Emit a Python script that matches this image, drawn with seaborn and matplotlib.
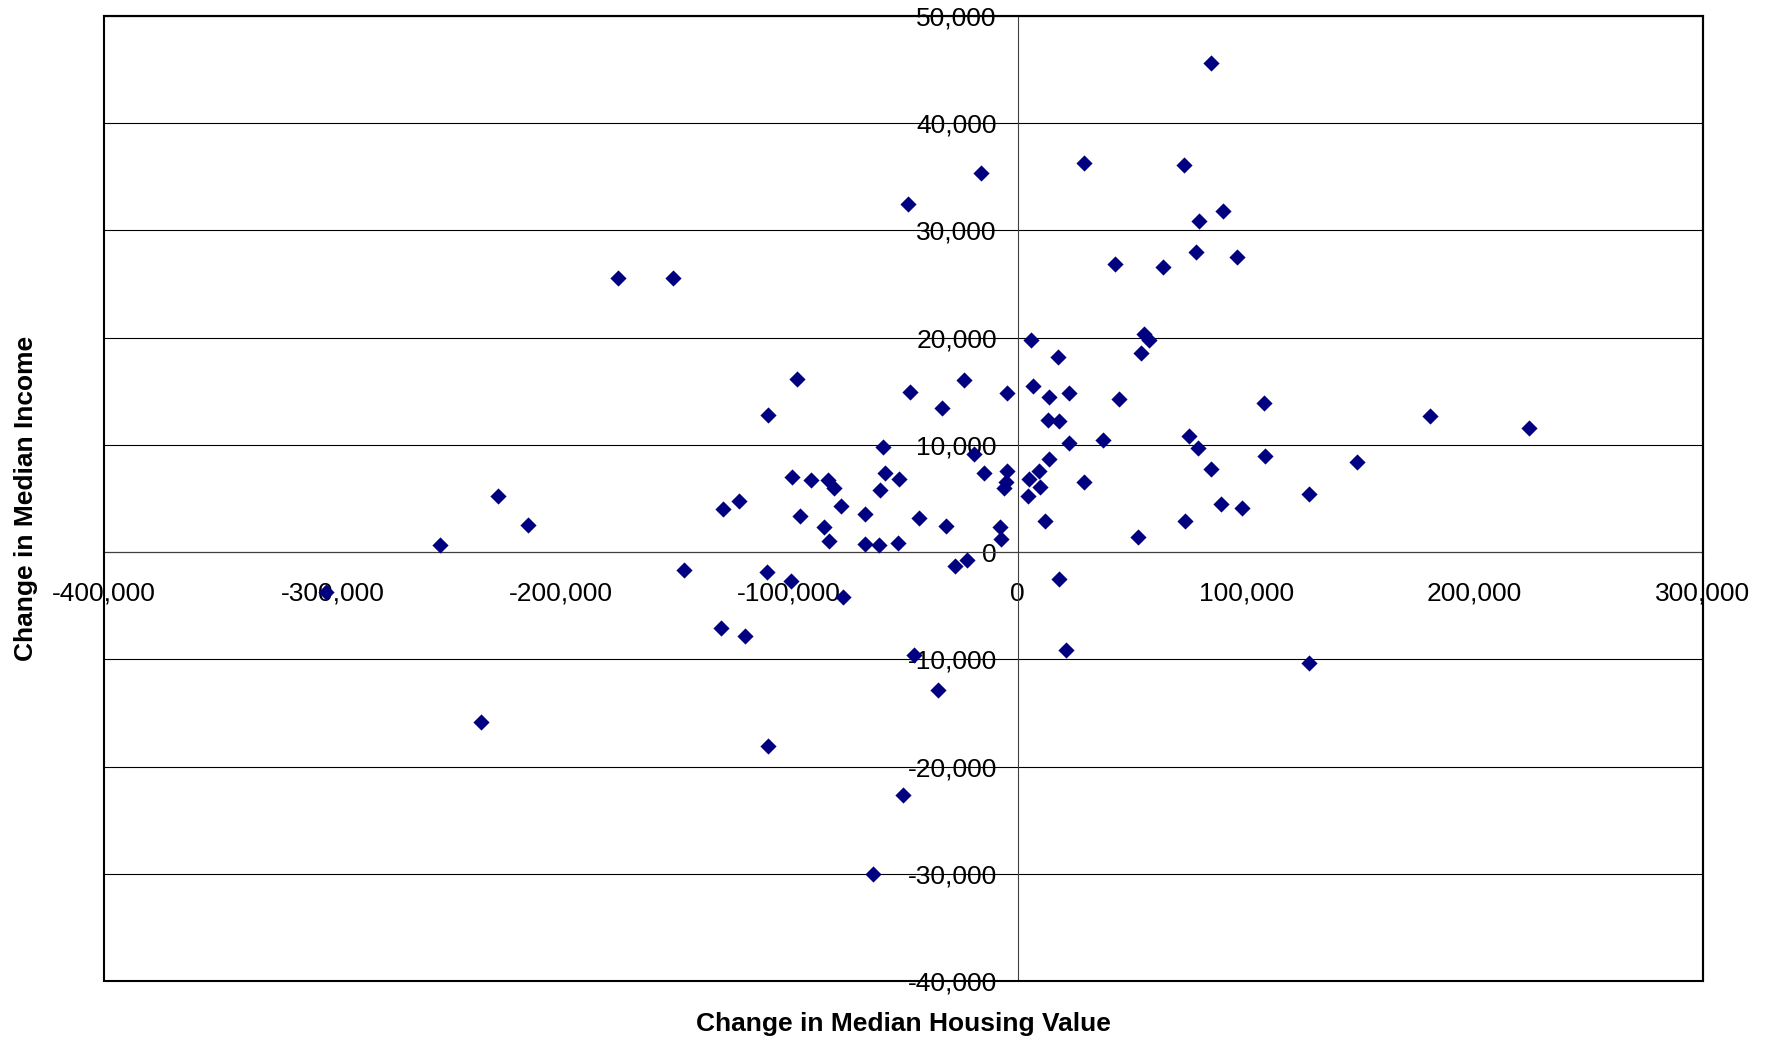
import matplotlib
matplotlib.use("Agg")
import matplotlib.pyplot as plt
from matplotlib.patches import Rectangle
from matplotlib.ticker import MultipleLocator, StrMethodFormatter
import seaborn as sns

# change in median housing value (x) and change in median income (y), one per place
housing_change = [
    84500, 29000, 73000, -16000, -48000, 89800, 79300, -175100, -151000, 78100,
    95900, 42800, 63500, 55400, 57600, 5800, 54000, 17800, -96800, -23600,
    6600, -47000, -4800, 22600, 13900, 44200, -33300, 108000, -109200, 180300,
    223700, 13300, 18000, 75100, 37200, 22600, -59100, 78900, -19000, 108400,
    13600, 148400, 84500, -4800, 9500, -14900, -58300, -98800, 5100, -90700,
    -51800, -83200, -5100, 29200, -80500, 9800, -5800, -60100, -227600, 127700,
    4400, -121800, -77300, 88800, -129000, 98100, -95100, -43400, -67000, 12000,
    73400, -214500, -31500, -84600, -7700, 52500, -7300, -82700, -66700, -60800,
    -52500, -253000, -22300, -27300, -303000, -145900, -109700, -99200, 18250, -76600,
    -129900, -119400, 21200, -45500, 127700, -35000, -235000, -109100, -50000, -63500,
]
income_change = [
    45600, 36300, 36100, 35400, 32500, 31850, 30900, 25600, 25600, 27950,
    27550, 26900, 26600, 20350, 19750, 19800, 18600, 18200, 16100, 16050,
    15500, 14900, 14800, 14800, 14500, 14250, 13400, 13900, 12750, 12650,
    11550, 12300, 12200, 10850, 10450, 10200, 9800, 9750, 9150, 8950,
    8650, 8400, 7750, 7600, 7550, 7350, 7350, 7000, 6850, 6700,
    6850, 6750, 6550, 6500, 5950, 6050, 5950, 5750, 5200, 5400,
    5250, 4750, 4300, 4450, 4000, 4080, 3350, 3200, 3550, 2900,
    2900, 2500, 2450, 2350, 2300, 1450, 1250, 1000, 800, 650,
    870, 650, -700, -1300, -3700, -1700, -1900, -2650, -2550, -4200,
    -7050, -7800, -9100, -9550, -10300, -12850, -15850, -18100, -22650, -30050,
]

sns.set_style("white")
plt.rcParams["font.family"] = ["Liberation Sans", "DejaVu Sans"]
plt.rcParams["axes.unicode_minus"] = False
plt.rcParams["text.color"] = "black"
plt.rcParams["axes.labelcolor"] = "black"

fig = plt.figure(figsize=(17.74, 10.43), dpi=100)
ax = fig.add_axes([104 / 1774, 1 - 981 / 1043, 1599 / 1774, 965 / 1043])

sns.scatterplot(x=housing_change, y=income_change, marker="D", color="#000080",
                s=68, linewidth=0, zorder=3, ax=ax)

ax.set_xlim(-400000, 300000)
ax.set_ylim(-40000, 50000)
ax.xaxis.set_major_locator(MultipleLocator(100000))
ax.yaxis.set_major_locator(MultipleLocator(10000))
ax.xaxis.set_major_formatter(StrMethodFormatter("{x:,.0f}"))
ax.yaxis.set_major_formatter(StrMethodFormatter("{x:,.0f}"))

# excel style: axes cross at the origin, gridlines only horizontal
ax.yaxis.grid(True, color="black", linewidth=0.8)
ax.xaxis.grid(False)
for side in ["left", "bottom"]:
    ax.spines[side].set_position(("data", 0))
    ax.spines[side].set_color("#404040")
    ax.spines[side].set_linewidth(0.8)
for side in ["top", "right"]:
    ax.spines[side].set_color("black")
    ax.spines[side].set_linewidth(1.5)
ax.add_patch(Rectangle((0, 0), 1, 1, transform=ax.transAxes, fill=False,
                       edgecolor="black", linewidth=1.5, clip_on=False, zorder=4))

ax.tick_params(axis="x", direction="out", length=6, width=0.8, color="#404040",
               labelcolor="black", pad=15.5, labelsize=19)
ax.tick_params(axis="y", direction="out", length=6, width=0.8, color="#404040",
               labelcolor="black", pad=9, labelsize=19)

ax.set_xlabel("Change in Median Housing Value", fontsize=19, fontweight="bold", va="center")
ax.set_ylabel("Change in Median Income", fontsize=19, fontweight="bold", va="center")
ax.xaxis.set_label_coords(0.5, -0.0445)
ax.yaxis.set_label_coords(-0.0485, 0.5)

fig.savefig("out.png", dpi=100)
